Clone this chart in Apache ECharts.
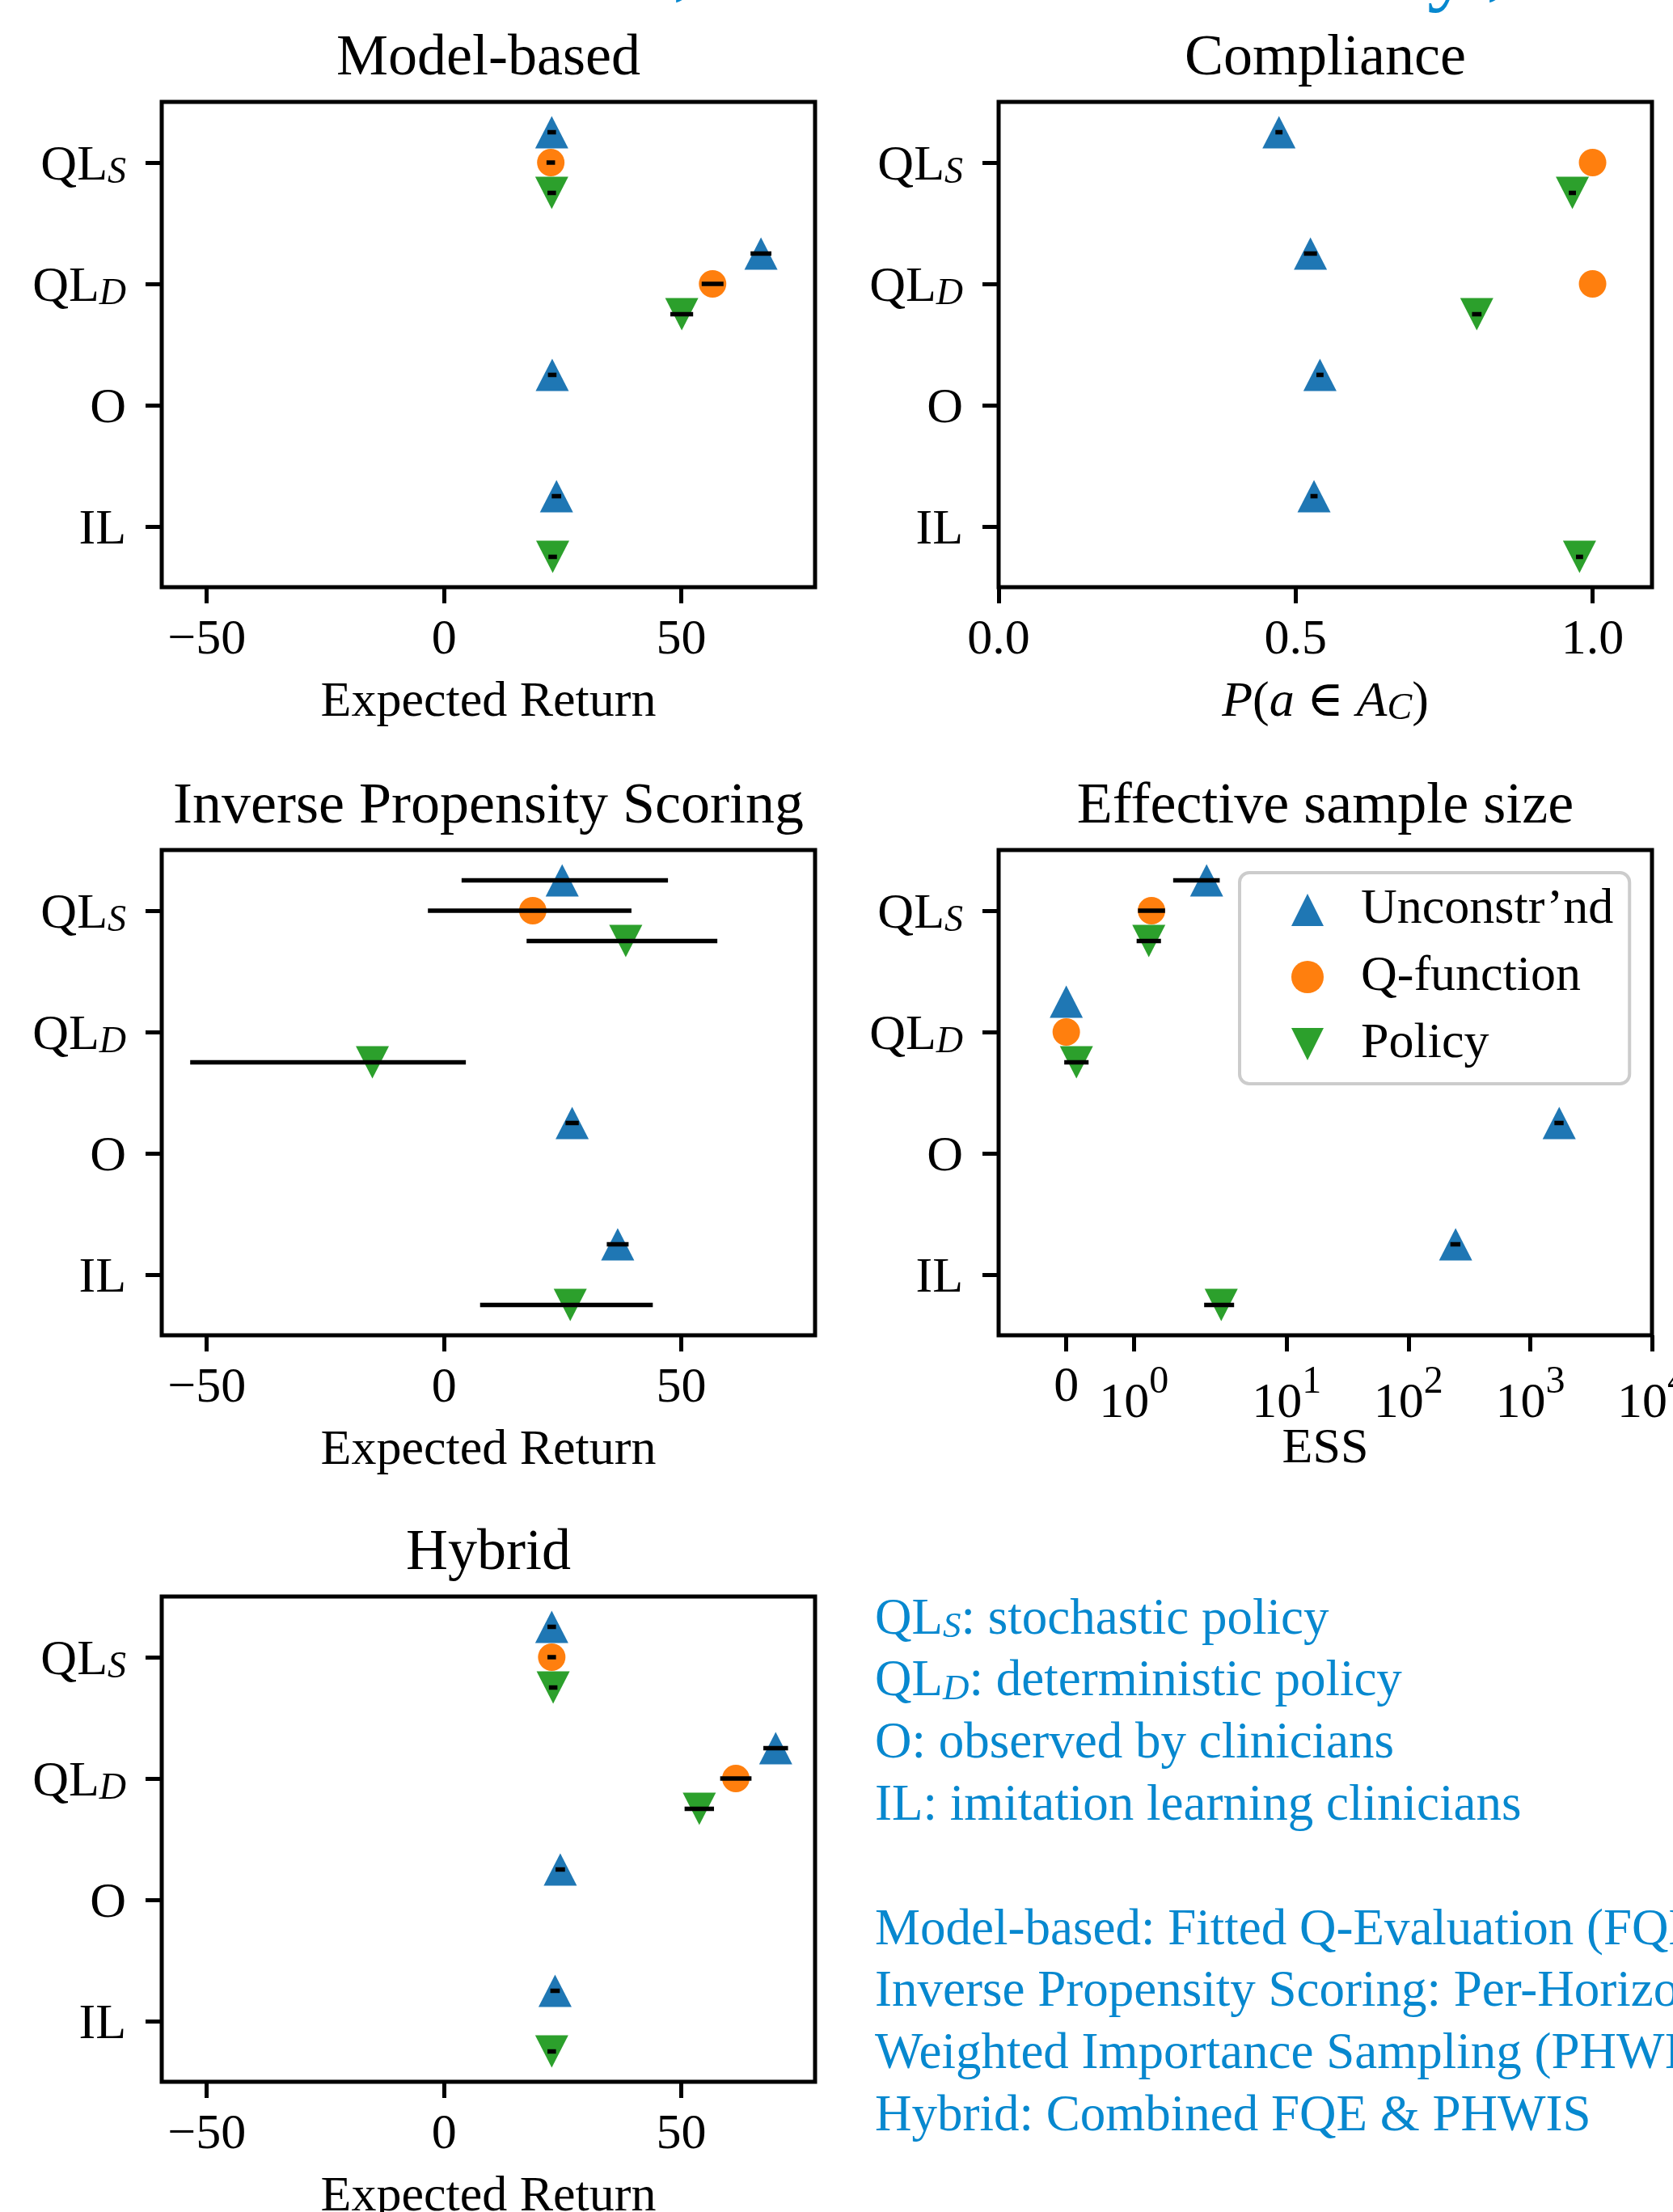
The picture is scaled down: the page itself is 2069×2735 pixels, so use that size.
<!DOCTYPE html>
<html><head><meta charset="utf-8">
<script src="https://cdn.jsdelivr.net/npm/echarts@6/dist/echarts.min.js"></script>
<style>html,body{margin:0;padding:0;background:#fff;overflow:hidden}#c{width:2069px;height:2735px}</style>
</head><body><div id="c"></div>
<script>
// ---------------- data ----------------
const categories = ['QL_S', 'QL_D', 'O', 'IL'];
const groupNames = ['Unconstr\u2019nd', 'Q-function', 'Policy'];

// Model-based (Expected Return)
const mbUnc = [22.7, 66.8, 22.8, 23.7];
const mbUncErr = [0.9, 2.2, 0.9, 1.0];
const mbQf = [22.5, 56.6, null, null];
const mbQfErr = [0.9, 2.3, null, null];
const mbPol = [22.7, 50.1, null, 22.9];
const mbPolErr = [0.9, 2.4, null, 0.9];

// Compliance P(a in A_C)
const cpUnc = [0.472, 0.525, 0.541, 0.531];
const cpUncErr = [0.006, 0.011, 0.006, 0.006];
const cpQf = [1.0, 1.0, null, null];
const cpQfErr = [0, 0, null, null];
const cpPol = [0.966, 0.805, null, 0.978];
const cpPolErr = [0.006, 0.008, null, 0.006];

// Inverse Propensity Scoring (Expected Return), asymmetric bars
const ipsUnc = [24.9, null, 27.0, 36.6];
const ipsUncErrLo = [21.2, null, 1.4, 2.3];
const ipsUncErrHi = [22.3, null, 1.4, 2.3];
const ipsQf = [18.7, null, null, null];
const ipsQfErrLo = [22.1, null, null, null];
const ipsQfErrHi = [20.8, null, null, null];
const ipsPol = [38.3, -15.1, null, 26.6];
const ipsPolErrLo = [20.9, 38.4, null, 19.0];
const ipsPolErrHi = [19.3, 19.7, null, 17.4];

// Effective sample size
const essUnc = [2.2, 0, 1730, 244];
const essUncErr = [0.62, 0, 150, 23];
const essQf = [1.26, 0, null, null];
const essQfErr = [0.2, 0, null, null];
const essPol = [1.22, 0.15, null, 2.9];
const essPolErr = [0.18, 0.18, null, 0.8];

// Hybrid (Expected Return)
const hyUnc = [22.7, 69.9, 24.5, 23.4];
const hyUncErr = [0.9, 2.6, 1.0, 1.0];
const hyQf = [22.7, 61.5, null, null];
const hyQfErr = [0.9, 3.3, null, null];
const hyPol = [23.0, 53.8, null, 22.7];
const hyPolErr = [0.9, 3.1, null, 0.9];

// axis ticks / limits
const returnTicks = [-50, 0, 50];
const returnLimits = [-59.5, 78.2];
const complianceTicks = [0, 0.5, 1.0];
const complianceLimits = [0, 1.1];
const essTicks = [0, 1, 10, 100, 1000, 10000];
const essLimits = [-1, 10000];

const legendLines = [
  ['QL', 'S', ': stochastic policy'],
  ['QL', 'D', ': deterministic policy'],
  ['O: observed by clinicians'],
  ['IL: imitation learning clinicians'],
  null,
  ['Model-based: Fitted Q-Evaluation (FQE)'],
  ['Inverse Propensity Scoring: Per-Horizon'],
  ['Weighted Importance Sampling (PHWIS)'],
  ['Hybrid: Combined FQE & PHWIS']
];

// ---------------- helpers ----------------
const FONT = '"Liberation Serif", "DejaVu Serif", serif';
const BLUE = '#0788cf';
const colors = ['#1f77b4', '#ff7f0e', '#2ca02c'];
const symbols = ['triangle', 'circle', 'path://M0,0L2,0L1,2Z'];
const symbolSizes = [[41, 40], 34, [41, 40]];
const offsets = [-0.25, 0, 0.25];

const LINTHRESH = 2, LINSCALE = 1 / (1 - 1 / 10);
function symlog(x) {
  const a = Math.abs(x);
  return a <= LINTHRESH ? x / LINTHRESH * LINSCALE : Math.sign(x) * (LINSCALE + Math.log10(a / LINTHRESH));
}
const ident = v => v;

const panels = [
  {title: 'Model-based', left: 200, top: 126, kind: 'ret',
   groups: [[mbUnc, mbUncErr, mbUncErr], [mbQf, mbQfErr, mbQfErr], [mbPol, mbPolErr, mbPolErr]]},
  {title: 'Compliance', left: 1235, top: 126, kind: 'comp',
   groups: [[cpUnc, cpUncErr, cpUncErr], [cpQf, cpQfErr, cpQfErr], [cpPol, cpPolErr, cpPolErr]]},
  {title: 'Inverse Propensity Scoring', left: 200, top: 1051, kind: 'ret',
   groups: [[ipsUnc, ipsUncErrLo, ipsUncErrHi], [ipsQf, ipsQfErrLo, ipsQfErrHi], [ipsPol, ipsPolErrLo, ipsPolErrHi]]},
  {title: 'Effective sample size', left: 1235, top: 1051, kind: 'ess',
   groups: [[essUnc, essUncErr, essUncErr], [essQf, essQfErr, essQfErr], [essPol, essPolErr, essPolErr]]},
  {title: 'Hybrid', left: 200, top: 1974, kind: 'ret',
   groups: [[hyUnc, hyUncErr, hyUncErr], [hyQf, hyQfErr, hyQfErr], [hyPol, hyPolErr, hyPolErr]]}
];
const W = 808, H = 600;

const yRich = {
  n: {fontFamily: FONT, fontSize: 62, lineHeight: 62, verticalAlign: 'middle', color: '#000'},
  sub: {fontFamily: FONT, fontSize: 46, fontStyle: 'italic', lineHeight: 30, verticalAlign: 'bottom', color: '#000'}
};
function catLabel(v) {
  const c = categories[Math.round(v)];
  if (!c) return '';
  const p = c.split('_');
  return p.length > 1 ? `{n|${p[0]}}{sub|${p[1]}}` : `{n|${c}}`;
}

function renderErr(params, api) {
  const a = api.coord([api.value(0), api.value(2)]);
  const b = api.coord([api.value(1), api.value(2)]);
  return {type: 'line', shape: {x1: a[0], y1: a[1], x2: b[0], y2: b[1]},
          style: {stroke: '#000', lineWidth: 5.5}};
}

const grids = [], xAxes = [], yAxes = [], series = [], graphics = [];
const tickStyle = {show: true, inside: false, length: 20, lineStyle: {color: '#000', width: 5}};
const hiddenLine = {show: false, onZero: false};

panels.forEach((p, i) => {
  grids.push({left: p.left, top: p.top, width: W, height: H, show: true,
    borderColor: '#000', borderWidth: 5, backgroundColor: 'rgba(0,0,0,0)',
    containLabel: false, outerBoundsMode: 'none'});
  const xf = p.kind === 'ess' ? symlog : ident;
  let xa = {type: 'value', gridIndex: i, position: 'bottom', axisLine: hiddenLine, splitLine: {show: false},
    nameLocation: 'middle', nameGap: 112, nameMoveOverlap: false,
    nameTextStyle: {fontFamily: FONT, fontSize: 62, color: '#000', lineHeight: 62}};
  if (p.kind === 'ret') {
    Object.assign(xa, {min: returnLimits[0], max: returnLimits[1], name: 'Expected Return',
      axisTick: Object.assign({customValues: returnTicks}, tickStyle),
      axisLabel: {customValues: returnTicks, margin: 35, fontFamily: FONT, fontSize: 62, lineHeight: 62, color: '#000',
        formatter: v => String(v).replace('-', '\u2212')}});
  } else if (p.kind === 'comp') {
    Object.assign(xa, {min: complianceLimits[0], max: complianceLimits[1],
      name: '{i|P}{r|(}{i|a}{r| \u2208 }{i|A}{sub|C}{r|)}',
      nameTextStyle: {fontFamily: FONT, fontSize: 62, color: '#000', rich: {
        i: {fontFamily: FONT, fontSize: 62, fontStyle: 'italic', lineHeight: 62, verticalAlign: 'middle', color: '#000'},
        r: {fontFamily: FONT, fontSize: 62, lineHeight: 62, verticalAlign: 'middle', color: '#000'},
        sub: {fontFamily: FONT, fontSize: 46, fontStyle: 'italic', lineHeight: 30, verticalAlign: 'bottom', color: '#000'}}},
      axisTick: Object.assign({customValues: complianceTicks}, tickStyle),
      axisLabel: {customValues: complianceTicks, margin: 35, fontFamily: FONT, fontSize: 62, lineHeight: 62, color: '#000',
        formatter: v => v.toFixed(1)}});
  } else {
    const tv = essTicks.map(symlog);
    Object.assign(xa, {min: symlog(essLimits[0]), max: symlog(essLimits[1]), name: 'ESS',
      nameGap: 110,
      axisTick: Object.assign({customValues: tv}, tickStyle),
      axisLabel: {customValues: tv, margin: 34, color: '#000', fontFamily: FONT, fontSize: 62,
        formatter: v => {
          const k = tv.findIndex(t => Math.abs(t - v) < 1e-6);
          const raw = essTicks[k];
          if (raw === 0) return '{z|0}';
          return `{b|10}{s|${Math.round(Math.log10(raw))}}`;
        },
        rich: {
          z: {fontFamily: FONT, fontSize: 62, lineHeight: 62, verticalAlign: 'top', color: '#000'},
          b: {fontFamily: FONT, fontSize: 62, lineHeight: 82, verticalAlign: 'bottom', color: '#000'},
          s: {fontFamily: FONT, fontSize: 48, lineHeight: 46, verticalAlign: 'top', color: '#000'}
        }}});
  }
  xAxes.push(xa);
  yAxes.push({type: 'value', gridIndex: i, position: 'left', inverse: true, min: -0.5, max: 3.5,
    axisLine: hiddenLine, splitLine: {show: false},
    axisTick: Object.assign({customValues: [0, 1, 2, 3]}, tickStyle),
    axisLabel: {customValues: [0, 1, 2, 3], margin: 44, formatter: catLabel, rich: yRich,
      padding: [10, 0, 0, 0], fontFamily: FONT, fontSize: 62, color: '#000'}});

  p.groups.forEach((g, gi) => {
    const [vals, lo, hi] = g;
    const pts = [], bars = [];
    vals.forEach((v, k) => {
      if (v == null) return;
      const y = k + offsets[gi];
      pts.push([xf(v), y]);
      if (lo[k] || hi[k]) bars.push([xf(v - lo[k]), xf(v + hi[k]), y]);
    });
    series.push({type: 'scatter', name: groupNames[gi], xAxisIndex: i, yAxisIndex: i,
      symbol: symbols[gi], symbolSize: symbolSizes[gi], data: pts, z: 2, silent: true,
      itemStyle: {color: colors[gi], opacity: 1}});
    series.push({type: 'custom', name: 'err' + i + '_' + gi, xAxisIndex: i, yAxisIndex: i,
      renderItem: renderErr, data: bars, encode: {x: [0, 1], y: 2}, z: 5, silent: true});
  });

  graphics.push({type: 'text', x: p.left + W / 2, y: p.top - 53, silent: true,
    style: {text: p.title, fontFamily: FONT, fontSize: 72, fill: '#000', align: 'center', verticalAlign: 'middle'}});
});

// blue side text
legendLines.forEach((ln, k) => {
  if (!ln) return;
  const text = ln.length === 3 ? `{n|${ln[0]}}{sub|${ln[1]}}{n|${ln[2]}}` : `{n|${ln[0]}}`;
  graphics.push({type: 'text', x: 1082, y: 2003 + k * 76.8, silent: true,
    style: {text, fill: BLUE, fontFamily: FONT, fontSize: 63, align: 'left', verticalAlign: 'middle',
      rich: {
        n: {fill: BLUE, fontFamily: FONT, fontSize: 63, lineHeight: 63, verticalAlign: 'middle'},
        sub: {fill: BLUE, fontFamily: FONT, fontSize: 45, fontStyle: 'italic', lineHeight: 14, verticalAlign: 'bottom'}
      }}});
});

// fragments of a heading cut off at the top edge
[['y', 1765, -36], [',', 832, -43], [',', 1838, -43]].forEach(([t, x, y]) => {
  graphics.push({type: 'text', x, y, silent: true,
    style: {text: t, fill: BLUE, fontFamily: FONT, fontSize: 110, align: 'left', verticalAlign: 'middle'}});
});

const chart = echarts.init(document.getElementById('c'), null, {renderer: 'canvas'});
chart.setOption({
  animation: false,
  backgroundColor: '#fff',
  textStyle: {fontFamily: FONT},
  grid: grids, xAxis: xAxes, yAxis: yAxes, series,
  legend: {data: groupNames, orient: 'vertical', left: 1533, top: 1079,
    padding: [15, 20, 18, 64], itemGap: 21, itemWidth: 40, itemHeight: 40,
    borderColor: '#cccccc', borderWidth: 4, borderRadius: 12, backgroundColor: 'rgba(255,255,255,0.8)',
    selectedMode: false,
    textStyle: {fontFamily: FONT, fontSize: 62, lineHeight: 62, color: '#000', padding: [0, 0, 0, 41]}},
  graphic: graphics
});
</script></body></html>
